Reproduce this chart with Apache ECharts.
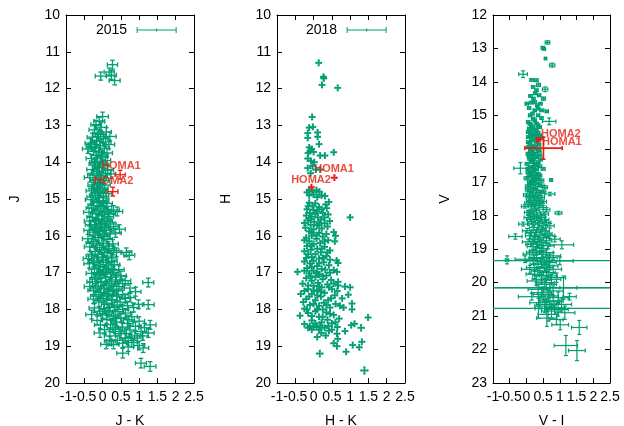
<!DOCTYPE html>
<html><head><meta charset="utf-8">
<script src="https://cdn.jsdelivr.net/npm/echarts@6/dist/echarts.min.js"></script>
<style>html,body{margin:0;padding:0;background:#fff}#c{width:624px;height:426px}</style>
</head><body><div id="c"></div>
<script>
// ---- data: [colour index, magnitude, colour error, magnitude error] ----
const xTicks1 = [-1, -0.5, 0, 0.5, 1, 1.5, 2, 2.5];
const panelTitles = ['2015', '2018'];
const xNames = ['J - K', 'H - K', 'V - I'];
const yNames = ['J', 'H', 'V'];
const starNames = ['HOMA1', 'HOMA2'];

const jk2015 = [
[0.27,11.35,0.14,0.12],[0.18,11.55,0.14,0.11],[-0.05,11.66,0.15,0.11],[0.24,11.63,0.14,0.12],[0.33,11.78,0.15,0.12],
[0.0,12.76,0.16,0.12],[-0.09,12.89,0.15,0.11],[-0.18,12.98,0.14,0.12],[-0.04,13.05,0.15,0.12],[-0.22,13.12,0.15,0.11],[0.1,13.18,0.14,0.12],[-0.12,13.22,0.15,0.12],[0.2,13.3,0.17,0.12],[-0.28,13.32,0.14,0.11],[0.02,13.36,0.15,0.12],[-0.16,13.42,0.14,0.12],[-0.33,13.48,0.15,0.12],[0.17,13.52,0.16,0.12],[-0.06,13.55,0.15,0.11],[-0.4,13.64,0.15,0.12],[-0.2,13.6,0.14,0.12],[0.05,13.62,0.14,0.12],[-0.25,13.7,0.15,0.11],[-0.1,13.72,0.14,0.12],[0.12,13.75,0.15,0.12],[-0.18,13.82,0.14,0.12],[-0.02,13.86,0.15,0.12],[-0.3,13.9,0.15,0.11],[0.08,13.95,0.14,0.12],[-0.14,13.98,0.15,0.12],
[-0.22,14.05,0.15,0.12],[0.03,14.08,0.14,0.11],[-0.08,14.15,0.15,0.12],[-0.28,14.2,0.15,0.12],[0.14,14.22,0.16,0.12],[-0.16,14.3,0.14,0.12],[-0.35,14.42,0.15,0.12],[-0.02,14.36,0.15,0.11],[0.22,14.32,0.14,0.12],[-0.2,14.48,0.14,0.12],[-0.1,14.55,0.15,0.12],[0.05,14.5,0.15,0.12],[-0.25,14.62,0.15,0.12],[-0.15,14.68,0.14,0.11],[0.0,14.7,0.15,0.12],[-0.3,14.78,0.15,0.12],[-0.06,14.82,0.14,0.12],[0.1,14.85,0.15,0.12],[-0.2,14.9,0.15,0.12],[-0.12,14.96,0.14,0.12],
[-0.32,15.02,0.15,0.12],[0.02,15.05,0.15,0.12],[-0.15,15.1,0.14,0.11],[-0.25,15.18,0.15,0.12],[0.1,15.2,0.15,0.12],[-0.05,15.25,0.15,0.12],[0.3,15.3,0.16,0.12],[0.4,15.34,0.15,0.12],[-0.37,15.36,0.15,0.12],[-0.18,15.4,0.14,0.12],[0.0,15.42,0.15,0.12],[-0.28,15.5,0.15,0.11],[0.15,15.48,0.15,0.12],[-0.1,15.55,0.15,0.12],[-0.22,15.62,0.14,0.12],[0.05,15.65,0.15,0.12],[0.22,15.68,0.15,0.12],[-0.32,15.7,0.15,0.12],[-0.05,15.74,0.14,0.12],[0.46,15.82,0.16,0.12],[-0.15,15.8,0.15,0.12],[0.1,15.85,0.15,0.12],[0.36,15.92,0.15,0.12],[-0.26,15.9,0.15,0.12],[0.0,15.95,0.15,0.12],
[-0.4,16.08,0.15,0.12],[-0.12,16.05,0.14,0.12],[0.12,16.1,0.15,0.12],[-0.25,16.15,0.15,0.12],[0.02,16.2,0.15,0.12],[0.28,16.22,0.15,0.12],[-0.35,16.3,0.15,0.12],[-0.08,16.32,0.15,0.12],[0.18,16.36,0.15,0.12],[-0.2,16.42,0.14,0.12],[0.06,16.45,0.15,0.12],[0.38,16.45,0.15,0.12],[0.65,16.45,0.15,0.12],[0.73,16.53,0.15,0.12],[-0.3,16.55,0.15,0.12],[-0.02,16.58,0.15,0.12],[0.24,16.6,0.15,0.12],[-0.15,16.68,0.15,0.12],[0.1,16.72,0.15,0.12],[-0.36,16.76,0.15,0.12],[0.32,16.78,0.15,0.12],[-0.06,16.82,0.15,0.12],[-0.22,16.9,0.15,0.12],[0.16,16.88,0.15,0.12],[0.44,16.92,0.15,0.12],[0.02,16.96,0.15,0.12],
[-0.3,17.02,0.15,0.12],[-0.1,17.05,0.15,0.12],[0.22,17.04,0.15,0.12],[0.5,17.08,0.15,0.12],[0.08,17.12,0.15,0.12],[-0.2,17.18,0.15,0.12],[0.35,17.2,0.15,0.12],[0.62,17.22,0.15,0.12],[1.25,17.27,0.15,0.12],[-0.02,17.26,0.15,0.12],[0.18,17.3,0.15,0.12],[-0.35,17.38,0.15,0.12],[-0.12,17.36,0.15,0.12],[0.45,17.38,0.15,0.12],[0.75,17.42,0.15,0.12],[0.05,17.44,0.15,0.12],[0.28,17.48,0.15,0.12],[-0.25,17.48,0.15,0.12],
[0.9,17.52,0.15,0.12],[-0.05,17.54,0.15,0.12],[0.15,17.58,0.15,0.12],[0.55,17.6,0.15,0.12],[0.38,17.64,0.15,0.12],[-0.18,17.64,0.15,0.12],[0.75,17.68,0.15,0.12],[0.02,17.7,0.15,0.12],[0.25,17.74,0.15,0.12],[-0.1,17.8,0.15,0.12],[0.48,17.8,0.15,0.12],[0.98,17.86,0.15,0.12],[1.25,17.87,0.16,0.12],[0.12,17.86,0.15,0.12],[0.68,17.9,0.15,0.12],[0.32,17.92,0.15,0.12],[-0.22,17.96,0.15,0.12],[0.05,17.98,0.15,0.12],[0.85,17.95,0.15,0.12],
[-0.3,18.14,0.16,0.12],[0.2,18.04,0.15,0.12],[0.42,18.06,0.15,0.12],[0.62,18.1,0.15,0.12],[0.0,18.12,0.15,0.12],[0.3,18.18,0.15,0.12],[0.8,18.2,0.15,0.12],[0.5,18.24,0.15,0.12],[0.12,18.28,0.15,0.12],[-0.15,18.3,0.15,0.12],[1.0,18.32,0.15,0.12],[0.38,18.34,0.15,0.12],[0.68,18.38,0.15,0.12],[-0.06,18.42,0.16,0.12],[0.22,18.42,0.15,0.12],[1.3,18.42,0.16,0.12],[0.9,18.46,0.15,0.12],[0.55,18.48,0.15,0.12],[1.15,18.5,0.16,0.12],
[0.35,18.54,0.15,0.12],[-0.07,18.64,0.16,0.12],[0.75,18.56,0.15,0.12],[1.25,18.64,0.16,0.12],[1.05,18.6,0.15,0.12],[0.5,18.66,0.15,0.12],[0.2,18.72,0.15,0.12],[0.88,18.72,0.15,0.12],[0.62,18.78,0.15,0.12],[0.2,18.86,0.15,0.12],[0.4,18.84,0.15,0.12],[0.8,18.9,0.15,0.12],[0.55,18.92,0.15,0.12],[1.0,18.98,0.15,0.12],
[1.11,19.05,0.15,0.12],[0.7,19.02,0.15,0.12],[0.55,19.19,0.16,0.13],[1.05,19.46,0.15,0.13],[1.3,19.55,0.16,0.13],
[-0.05,13.25,0.15,0.12],[0.08,13.45,0.15,0.12],[-0.22,13.52,0.15,0.12],[-0.12,13.3,0.15,0.12],[-0.3,13.58,0.15,0.12],[0.0,13.8,0.15,0.12],[-0.2,14.0,0.15,0.12],[-0.05,14.02,0.15,0.12],[-0.12,14.25,0.15,0.12],[0.08,14.3,0.15,0.12],[-0.26,14.35,0.15,0.12],[-0.04,14.45,0.15,0.12],[-0.14,14.6,0.15,0.12],[0.06,14.62,0.15,0.12],[-0.22,14.72,0.15,0.12],[-0.1,14.76,0.15,0.12],[0.02,14.92,0.15,0.12],[-0.28,14.95,0.15,0.12],
[-0.08,15.08,0.15,0.12],[0.12,15.12,0.15,0.12],[-0.3,15.25,0.15,0.12],[-0.12,15.32,0.15,0.12],[0.06,15.35,0.15,0.12],[0.2,15.4,0.15,0.12],[-0.35,15.6,0.15,0.12],[-0.02,15.58,0.15,0.12],[0.12,15.6,0.15,0.12],[-0.18,15.7,0.15,0.12],[0.3,15.75,0.15,0.12],[0.05,15.78,0.15,0.12],[-0.36,15.85,0.15,0.12],[-0.08,15.88,0.15,0.12],[0.2,15.95,0.15,0.12],[-0.2,15.98,0.15,0.12],
[0.05,16.02,0.15,0.12],[-0.3,16.2,0.15,0.12],[-0.15,16.25,0.15,0.12],[0.15,16.28,0.15,0.12],[-0.02,16.38,0.15,0.12],[0.3,16.4,0.15,0.12],[-0.12,16.5,0.15,0.12],[0.12,16.55,0.15,0.12],[-0.38,16.62,0.15,0.12],[0.02,16.66,0.15,0.12],[-0.25,16.72,0.15,0.12],[0.25,16.7,0.15,0.12],[-0.1,16.85,0.15,0.12],[0.08,16.92,0.15,0.12],[0.3,16.95,0.15,0.12],
[-0.15,17.0,0.15,0.12],[0.12,17.0,0.15,0.12],[0.38,17.12,0.15,0.12],[-0.06,17.15,0.15,0.12],[-0.28,17.25,0.15,0.12],[0.25,17.25,0.15,0.12],[0.1,17.35,0.15,0.12],[0.55,17.3,0.15,0.12],[-0.18,17.42,0.15,0.12],[0.38,17.45,0.15,0.12],[0.18,17.52,0.15,0.12],[-0.1,17.6,0.15,0.12],[0.28,17.62,0.15,0.12],[0.62,17.7,0.15,0.12],[0.1,17.75,0.15,0.12],[-0.25,17.72,0.15,0.12],[0.4,17.88,0.15,0.12],[0.18,17.95,0.15,0.12],
[-0.08,18.05,0.15,0.12],[0.55,18.0,0.15,0.12],[0.1,18.15,0.15,0.12],[0.35,18.25,0.15,0.12],[0.72,18.28,0.15,0.12],[0.28,18.5,0.15,0.12],[0.05,18.55,0.15,0.12],[0.45,18.6,0.15,0.12],[0.65,18.65,0.15,0.12],[0.3,18.95,0.15,0.12],[0.1,18.95,0.15,0.12],[0.7,18.85,0.15,0.12],[0.95,18.78,0.15,0.12],[1.1,18.72,0.15,0.12]
];

const hk2018 = [
[0.14,11.3,0.07,0.07],[0.27,11.68,0.07,0.07],[0.28,11.72,0.07,0.07],[0.23,11.9,0.07,0.07],[0.66,11.98,0.07,0.07],[-0.04,12.77,0.07,0.07],[-0.12,13.06,0.07,0.07],[-0.02,13.04,0.07,0.07],[-0.16,13.21,0.07,0.07],[-0.16,13.34,0.07,0.07],[0.11,13.19,0.07,0.07],[0.11,13.31,0.07,0.07],[0.15,13.51,0.07,0.07],[-0.12,13.6,0.07,0.07],[-0.05,13.64,0.07,0.07],[-0.1,13.7,0.07,0.07],[0.0,13.72,0.07,0.07],[-0.15,13.75,0.07,0.07],[0.18,13.82,0.07,0.07],[0.31,13.82,0.07,0.07],[0.55,13.73,0.07,0.07],[-0.16,13.9,0.07,0.07],[-0.07,13.97,0.07,0.07],[0.02,14.0,0.07,0.07],[-0.16,14.16,0.07,0.07],[-0.03,14.1,0.07,0.07],[0.06,14.2,0.07,0.07],[0.18,14.2,0.07,0.07],[-0.08,14.3,0.07,0.07],[-0.12,14.75,0.07,0.07],[-0.03,14.8,0.07,0.07],[0.08,14.76,0.07,0.07],[0.16,14.8,0.07,0.07],[0.0,14.88,0.07,0.07],[0.22,14.9,0.07,0.07],[0.31,14.92,0.07,0.07],
[-0.12,15.1,0.07,0.07],[-0.03,15.18,0.07,0.07],[0.05,15.12,0.07,0.07],[0.15,15.22,0.07,0.07],[0.33,15.15,0.07,0.07],[0.42,15.08,0.07,0.07],[0.36,15.25,0.07,0.07],[-0.18,15.28,0.07,0.07],[0.0,15.3,0.07,0.07],[0.1,15.34,0.07,0.07],[-0.1,15.38,0.07,0.07],[0.25,15.38,0.07,0.07],[0.4,15.42,0.07,0.07],[1.0,15.5,0.07,0.07],[-0.2,15.45,0.07,0.07],[-0.05,15.48,0.07,0.07],[0.12,15.5,0.07,0.07],[0.2,15.56,0.07,0.07],[0.44,15.6,0.07,0.07],[-0.15,15.58,0.07,0.07],[0.02,15.62,0.07,0.07],[0.3,15.66,0.07,0.07],[-0.08,15.7,0.07,0.07],[0.1,15.72,0.07,0.07],[-0.22,15.78,0.07,0.07],[0.22,15.8,0.07,0.07],[0.0,15.82,0.07,0.07],[0.55,15.9,0.07,0.07],[-0.12,15.88,0.07,0.07],[0.15,15.92,0.07,0.07],[0.35,15.95,0.07,0.07],
[-0.05,16.0,0.07,0.07],[0.6,16.0,0.07,0.07],[0.25,16.02,0.07,0.07],[-0.2,16.05,0.07,0.07],[0.08,16.08,0.07,0.07],[0.58,16.15,0.07,0.07],[0.4,16.12,0.07,0.07],[-0.12,16.15,0.07,0.07],[0.18,16.2,0.07,0.07],[0.0,16.22,0.07,0.07],[-0.18,16.28,0.07,0.07],[0.3,16.3,0.07,0.07],[0.1,16.35,0.07,0.07],[-0.08,16.38,0.07,0.07],[0.45,16.4,0.07,0.07],[0.2,16.45,0.07,0.07],[-0.15,16.5,0.07,0.07],[0.05,16.5,0.07,0.07],[0.35,16.55,0.07,0.07],[-0.2,16.6,0.07,0.07],[0.63,16.67,0.07,0.07],[0.67,16.74,0.07,0.07],[0.15,16.62,0.07,0.07],[0.0,16.68,0.07,0.07],[0.28,16.72,0.07,0.07],[-0.1,16.75,0.07,0.07],[0.42,16.8,0.07,0.07],[0.1,16.82,0.07,0.07],[-0.18,16.88,0.07,0.07],[0.55,16.93,0.07,0.07],[0.64,16.98,0.07,0.07],[0.22,16.9,0.07,0.07],[-0.44,16.98,0.07,0.07],[0.0,16.95,0.07,0.07],
[-0.12,17.02,0.07,0.07],[0.15,17.05,0.07,0.07],[0.35,17.08,0.07,0.07],[0.05,17.12,0.07,0.07],[-0.2,17.15,0.07,0.07],[0.25,17.18,0.07,0.07],[0.48,17.2,0.07,0.07],[-0.05,17.22,0.07,0.07],[0.67,17.25,0.07,0.07],[0.12,17.28,0.07,0.07],[-0.3,17.3,0.07,0.07],[0.38,17.32,0.07,0.07],[0.67,17.35,0.07,0.07],[0.86,17.38,0.07,0.07],[1.0,17.4,0.07,0.07],[0.0,17.36,0.07,0.07],[0.22,17.4,0.07,0.07],[-0.15,17.45,0.07,0.07],[0.5,17.45,0.07,0.07],[0.1,17.5,0.07,0.07],[0.3,17.55,0.07,0.07],[-0.35,17.58,0.07,0.07],[-0.05,17.58,0.07,0.07],[0.95,17.6,0.07,0.07],[0.58,17.62,0.07,0.07],[0.2,17.65,0.07,0.07],[0.78,17.7,0.07,0.07],[-0.2,17.72,0.07,0.07],[0.05,17.75,0.07,0.07],[0.4,17.75,0.07,0.07],[0.28,17.82,0.07,0.07],[1.05,17.84,0.07,0.07],[0.6,17.85,0.07,0.07],[-0.1,17.88,0.07,0.07],[0.15,17.9,0.07,0.07],[0.82,17.95,0.07,0.07],[0.45,17.95,0.07,0.07],[-0.25,17.98,0.07,0.07],[1.05,18.0,0.07,0.07],[0.25,18.0,0.07,0.07],
[0.05,18.05,0.07,0.07],[0.35,18.08,0.07,0.07],[-0.15,18.1,0.07,0.07],[-0.37,18.17,0.07,0.07],[1.49,18.22,0.07,0.07],[0.55,18.15,0.07,0.07],[0.15,18.2,0.07,0.07],[0.7,18.25,0.07,0.07],[0.38,18.28,0.07,0.07],[-0.05,18.3,0.07,0.07],[0.22,18.35,0.07,0.07],[1.12,18.39,0.07,0.07],[1.03,18.43,0.07,0.07],[0.5,18.38,0.07,0.07],[-0.1,18.45,0.07,0.07],[0.08,18.48,0.07,0.07],[0.3,18.5,0.07,0.07],[1.3,18.5,0.08,0.08],[0.65,18.48,0.07,0.07],[-0.05,18.55,0.07,0.07],[0.15,18.55,0.07,0.07],[0.86,18.59,0.07,0.07],[0.42,18.58,0.07,0.07],[0.21,18.64,0.07,0.07],[0.64,18.66,0.07,0.07],[0.33,18.71,0.07,0.07],[0.1,18.75,0.07,0.07],[0.66,18.8,0.07,0.07],[1.32,18.88,0.07,0.07],[0.64,19.0,0.07,0.07],[0.55,18.92,0.07,0.07],[1.07,18.97,0.07,0.07],[1.25,19.03,0.07,0.07],[0.89,19.15,0.07,0.07],[0.17,19.2,0.08,0.08],[1.39,19.66,0.09,0.09],
[-0.15,15.2,0.07,0.07],[0.05,15.4,0.07,0.07],[0.22,15.28,0.07,0.07],[-0.08,15.55,0.07,0.07],[0.3,15.5,0.07,0.07],[-0.25,15.65,0.07,0.07],[0.15,15.68,0.07,0.07],[0.38,15.75,0.07,0.07],[-0.05,15.92,0.07,0.07],[0.08,15.98,0.07,0.07],[-0.25,16.12,0.07,0.07],[0.3,16.15,0.07,0.07],[-0.05,16.28,0.07,0.07],[0.22,16.35,0.07,0.07],[-0.25,16.42,0.07,0.07],[0.38,16.45,0.07,0.07],[-0.05,16.58,0.07,0.07],[0.25,16.6,0.07,0.07],[-0.25,16.7,0.07,0.07],[0.45,16.65,0.07,0.07],[0.15,16.75,0.07,0.07],[-0.05,16.85,0.07,0.07],[0.32,16.92,0.07,0.07],[-0.25,16.95,0.07,0.07],[0.1,17.0,0.07,0.07],[0.45,17.0,0.07,0.07],[-0.08,17.1,0.07,0.07],[0.25,17.1,0.07,0.07],[0.55,17.3,0.07,0.07],[-0.15,17.35,0.07,0.07],[0.15,17.38,0.07,0.07],[0.42,17.4,0.07,0.07],[-0.25,17.5,0.07,0.07],[0.0,17.48,0.07,0.07],[0.2,17.52,0.07,0.07],[0.65,17.5,0.07,0.07],[-0.12,17.65,0.07,0.07],[0.1,17.62,0.07,0.07],[0.48,17.7,0.07,0.07],[-0.28,17.8,0.07,0.07],[0.0,17.85,0.07,0.07],[0.35,17.88,0.07,0.07],[0.72,17.9,0.07,0.07],[-0.18,18.0,0.07,0.07],[0.1,18.0,0.07,0.07],[0.45,18.12,0.07,0.07],[-0.05,18.18,0.07,0.07],[0.25,18.2,0.07,0.07],[0.6,18.35,0.07,0.07],[-0.25,18.4,0.07,0.07],[0.05,18.38,0.07,0.07],[0.4,18.45,0.07,0.07],[-0.15,18.5,0.07,0.07],[0.18,18.45,0.07,0.07],[0.5,18.55,0.07,0.07],[0.0,18.48,0.07,0.07],[-0.12,14.9,0.07,0.07],[0.1,14.95,0.07,0.07],[-0.18,14.82,0.07,0.07]
];

const vi = [
[0.63,12.82,0.07,0.05],[0.49,12.98,0.05,0.04],[0.53,13.02,0.04,0.03],[0.57,13.3,0.03,0.03],[0.77,13.5,0.08,0.06],[-0.1,13.77,0.13,0.1],[0.16,13.94,0.06,0.04],[0.3,13.95,0.05,0.04],[0.36,14.09,0.06,0.05],[0.56,14.22,0.08,0.07],[0.26,14.34,0.05,0.04],[0.21,14.5,0.05,0.04],[0.51,14.5,0.06,0.05],[0.01,14.65,0.05,0.04],[0.15,14.62,0.05,0.04],[0.32,14.7,0.05,0.04],[0.46,14.85,0.06,0.04],[0.61,14.88,0.05,0.04],[0.25,14.85,0.05,0.04],[0.11,15.0,0.05,0.04],[0.35,15.0,0.05,0.04],[0.68,15.18,0.2,0.1],[0.2,15.1,0.05,0.04],[0.05,15.2,0.05,0.04],[0.3,15.25,0.05,0.04],
[0.2,14.15,0.05,0.04],[0.3,14.25,0.05,0.04],[0.12,14.42,0.05,0.04],[0.38,14.4,0.05,0.04],[0.25,14.6,0.05,0.04],[0.42,14.65,0.05,0.04],[0.08,14.78,0.05,0.04],[0.35,14.8,0.05,0.04],[0.18,14.95,0.05,0.04],[0.45,15.08,0.05,0.04],
[0.15,15.3,0.05,0.04],[0.4,15.35,0.05,0.04],[0.08,15.4,0.05,0.04],[0.25,15.45,0.05,0.04],[0.12,15.5,0.05,0.04],[0.35,15.52,0.05,0.04],[0.2,15.6,0.05,0.04],[0.05,15.65,0.05,0.04],[0.28,15.7,0.05,0.04],[0.45,15.68,0.05,0.04],[0.15,15.75,0.05,0.04],[0.1,15.85,0.05,0.04],[0.3,15.82,0.05,0.04],[0.2,15.9,0.05,0.04],[0.05,15.95,0.05,0.04],
[0.25,15.15,0.05,0.04],[0.1,15.25,0.05,0.04],[0.35,15.3,0.05,0.04],[0.2,15.38,0.05,0.04],[0.3,15.42,0.05,0.04],[0.05,15.5,0.05,0.04],[0.22,15.55,0.05,0.04],[0.4,15.6,0.05,0.04],[0.12,15.62,0.05,0.04],[0.3,15.6,0.05,0.04],[0.2,15.72,0.05,0.04],[0.05,15.8,0.05,0.04],[0.38,15.88,0.05,0.04],[0.25,15.95,0.05,0.04],[0.12,15.98,0.05,0.04],
[0.25,16.0,0.06,0.04],[0.12,16.05,0.06,0.04],[0.38,16.08,0.06,0.04],[0.05,16.15,0.06,0.04],[0.2,16.2,0.06,0.04],[0.3,16.25,0.06,0.04],[0.1,16.3,0.06,0.04],[0.42,16.32,0.06,0.04],[-0.18,16.58,0.2,0.17],[0.18,16.4,0.06,0.04],[0.02,16.45,0.06,0.04],[0.3,16.5,0.06,0.04],[0.12,16.55,0.06,0.04],[0.5,16.6,0.06,0.04],[0.22,16.65,0.06,0.04],[0.05,16.7,0.06,0.04],[0.35,16.75,0.06,0.04],[0.15,16.8,0.06,0.04],[0.74,16.93,0.04,0.04],[0.0,16.88,0.07,0.05],[0.28,16.9,0.07,0.05],[0.45,16.95,0.07,0.05],[0.1,16.98,0.07,0.05],
[0.35,16.02,0.06,0.04],[0.18,16.12,0.06,0.04],[0.28,16.15,0.06,0.04],[0.4,16.2,0.06,0.04],[0.08,16.22,0.06,0.04],[0.22,16.3,0.06,0.04],[0.15,16.35,0.06,0.04],[0.35,16.4,0.06,0.04],[0.25,16.45,0.06,0.04],[0.4,16.52,0.06,0.04],[0.2,16.55,0.06,0.04],[0.05,16.6,0.06,0.04],[0.3,16.62,0.06,0.04],[0.12,16.7,0.06,0.04],[0.28,16.75,0.06,0.04],[0.4,16.8,0.06,0.04],[0.08,16.82,0.06,0.04],[0.22,16.85,0.06,0.04],[0.35,16.88,0.06,0.04],[0.18,16.95,0.06,0.04],
[0.2,17.02,0.08,0.05],[0.35,17.08,0.08,0.05],[0.05,17.12,0.08,0.05],[0.55,17.15,0.08,0.05],[0.25,17.2,0.08,0.05],[0.12,17.28,0.08,0.05],[0.4,17.3,0.09,0.05],[0.7,17.35,0.15,0.05],[0.0,17.38,0.09,0.05],[0.22,17.42,0.09,0.05],[0.32,17.5,0.09,0.05],[0.1,17.55,0.1,0.05],[0.5,17.58,0.1,0.05],[0.18,17.65,0.1,0.05],[0.38,17.7,0.1,0.05],[-0.05,17.72,0.1,0.05],[0.25,17.8,0.1,0.06],[0.6,17.82,0.1,0.06],[0.12,17.88,0.1,0.06],[0.96,17.92,0.1,0.05],[0.42,17.95,0.11,0.06],[0.2,17.98,0.11,0.06],
[0.3,17.0,0.08,0.05],[0.12,17.05,0.08,0.05],[0.45,17.1,0.08,0.05],[0.2,17.15,0.08,0.05],[0.3,17.25,0.08,0.05],[0.05,17.22,0.08,0.05],[0.5,17.28,0.08,0.05],[0.18,17.35,0.09,0.05],[0.35,17.4,0.09,0.05],[0.08,17.45,0.09,0.05],[0.45,17.45,0.09,0.05],[0.25,17.55,0.1,0.05],[0.4,17.6,0.1,0.05],[0.05,17.62,0.1,0.05],[0.3,17.65,0.1,0.05],[0.15,17.72,0.1,0.05],[0.5,17.75,0.1,0.06],[0.3,17.85,0.1,0.06],[0.05,17.9,0.11,0.06],[0.55,17.95,0.11,0.06],
[0.05,18.05,0.12,0.06],[0.3,18.08,0.12,0.06],[0.55,18.12,0.12,0.06],[0.15,18.18,0.12,0.06],[0.4,18.22,0.13,0.06],[-0.1,18.25,0.13,0.06],[0.7,18.3,0.13,0.07],[0.22,18.35,0.13,0.07],[0.45,18.4,0.14,0.07],[0.02,18.45,0.14,0.07],[-0.33,18.62,0.2,0.08],[0.3,18.5,0.15,0.07],[0.62,18.55,0.15,0.07],[0.12,18.6,0.15,0.08],[0.5,18.65,0.16,0.08],[0.85,18.7,0.16,0.08],[0.25,18.72,0.16,0.08],[0.05,18.78,0.17,0.08],[0.4,18.8,0.17,0.08],[1.06,18.87,0.35,0.12],[0.65,18.9,0.18,0.09],[0.2,18.92,0.18,0.09],[0.45,18.98,0.18,0.09],
[0.25,18.02,0.12,0.06],[0.45,18.05,0.12,0.06],[0.12,18.1,0.12,0.06],[0.35,18.15,0.12,0.06],[0.6,18.2,0.13,0.06],[0.2,18.25,0.13,0.06],[0.5,18.3,0.13,0.07],[0.35,18.42,0.14,0.07],[0.12,18.5,0.15,0.07],[0.55,18.45,0.14,0.07],[0.4,18.58,0.15,0.07],[0.25,18.62,0.15,0.08],[0.7,18.6,0.15,0.08],[0.35,18.7,0.16,0.08],[0.6,18.75,0.16,0.08],[0.15,18.85,0.17,0.08],[0.5,18.88,0.18,0.09],[0.3,18.85,0.17,0.08],
[-0.58,19.32,0.05,0.12],[-0.04,19.3,0.3,0.1],[0.3,19.05,0.2,0.1],[0.6,19.1,0.2,0.1],[0.1,19.15,0.2,0.1],[0.8,19.2,0.22,0.1],[0.45,19.25,0.22,0.1],[0.2,19.35,0.22,0.1],[0.65,19.4,0.24,0.12],[1.0,19.35,0.4,0.12],[0.35,19.45,0.24,0.12],[0.55,19.55,0.25,0.12],[0.1,19.6,0.25,0.12],[0.8,19.6,0.25,0.12],[0.4,19.65,0.26,0.13],[0.25,19.75,0.26,0.13],[0.65,19.8,0.27,0.13],[0.9,19.85,0.27,0.14],[0.45,19.9,0.28,0.14],[0.3,19.95,0.28,0.14],
[0.4,19.05,0.2,0.1],[0.2,19.1,0.2,0.1],[0.5,19.15,0.2,0.1],[0.7,19.25,0.22,0.1],[0.3,19.28,0.22,0.1],[0.55,19.35,0.22,0.11],[0.45,19.45,0.24,0.12],[0.7,19.5,0.24,0.12],[0.25,19.55,0.25,0.12],[0.6,19.7,0.26,0.13],[0.45,19.78,0.26,0.13],[0.75,19.9,0.28,0.14],[0.55,20.0,0.28,0.14],[0.7,20.15,0.3,0.15],[0.45,20.3,0.3,0.16],[0.65,20.4,0.3,0.17],[0.8,20.55,0.3,0.18],[0.6,20.65,0.3,0.19],[0.95,20.8,0.3,0.2],[0.75,20.85,0.3,0.2],
[0.0,19.34,4.0,0.02],[0.5,20.15,4.0,0.02],[0.55,20.16,4.0,0.02],[0.7,20.77,4.0,0.02],
[1.11,20.15,0.4,0.35],[0.6,20.05,0.3,0.15],[0.35,20.2,0.3,0.15],[0.8,20.25,0.3,0.15],[0.16,20.42,0.4,0.1],[1.29,20.42,0.2,0.1],[0.5,20.35,0.3,0.16],[0.95,20.45,0.3,0.17],[0.7,20.55,0.3,0.18],[0.4,20.6,0.3,0.18],[1.05,20.65,0.3,0.2],[0.85,20.75,0.3,0.2],[0.36,20.77,0.1,0.3],[0.55,20.7,0.3,0.2],[1.15,20.9,0.3,0.2],[0.65,20.95,0.3,0.2],
[0.61,21.06,0.3,0.25],[1.01,21.26,0.25,0.15],[1.58,21.34,0.23,0.21],[1.18,21.88,0.35,0.3],[1.51,22.03,0.25,0.3],[0.9,21.1,0.2,0.15]
];

// HOMA stars: [colour, mag, colour err, mag err], order HOMA1, HOMA2
const homa2015 = [[0.48,14.34,0.14,0.12],[0.28,14.8,0.14,0.12]];
const homa2018 = [[0.57,14.42,0.07,0.07],[-0.06,14.68,0.07,0.07]];
const homaVI   = [[0.51,15.98,0.56,0.33],[0.36,15.73,0.06,0.06]];
// label anchor positions in data units
const homaLab2015 = [[0.5,14.1],[0.3,14.52]];
const homaLab2018 = [[0.56,14.18],[-0.07,14.47]];
const homaLabVI   = [[1.06,15.81],[1.03,15.55]];

const yRanges = [[10,20],[10,20],[12,23]];

// ---- chart ----
const GREEN = '#009e73', RED = '#e51e10';
const FONT = 'Liberation Sans, Arial, Helvetica, sans-serif';
const grids = [
  {left:66, top:15, width:128, height:368, containLabel:false, outerBoundsMode:'none'},
  {left:277, top:15, width:128, height:368, containLabel:false, outerBoundsMode:'none'},
  {left:493, top:15, width:117, height:368, containLabel:false, outerBoundsMode:'none'}
];
const capLen = [2.3, 1.0, 2.0];
const lineW = [1.3, 1.7, 1.2];

function errRenderer(color, lw, k){
  return function(params, api){
    const x=api.value(0), y=api.value(1), ex=api.value(2), ey=api.value(3);
    const c=api.coord([x,y]), l=api.coord([x-ex,y]), r=api.coord([x+ex,y]);
    const t=api.coord([x,y-ey]), b=api.coord([x,y+ey]);
    const st={stroke:color, lineWidth:lw};
    const ln=(x1,y1,x2,y2)=>({type:'line', shape:{x1,y1,x2,y2}, style:st});
    return {type:'group', children:[
      ln(l[0],c[1],r[0],c[1]), ln(l[0],c[1]-k,l[0],c[1]+k), ln(r[0],c[1]-k,r[0],c[1]+k),
      ln(c[0],t[1],c[0],b[1]), ln(c[0]-k,t[1],c[0]+k,t[1]), ln(c[0]-k,b[1],c[0]+k,b[1])
    ]};
  };
}
// labels split over two bottom axes (whole numbers / halves) so none is dropped as overlapping
const isWhole = v => Math.abs(v - Math.round(v)) < 1e-9;

const xAxes=[], yAxes=[], series=[];
const datasets=[jk2015, hk2018, vi];
const homas=[homa2015, homa2018, homaVI];
const labs=[homaLab2015, homaLab2018, homaLabVI];
const yNameGap=[44,44,41];
const lblStyle={fontSize:14, fontFamily:FONT, color:'#000', margin:7, hideOverlap:false, showMinLabel:true, showMaxLabel:true};
for(let i=0;i<3;i++){
  const axCommon = () => ({axisLine:{show:true, onZero:false, lineStyle:{color:'#000', width:1}}, axisTick:{show:true, inside:true, length:5, lineStyle:{color:'#000'}}, splitLine:{show:false}});
  const xr = {min:xTicks1[0], max:xTicks1[xTicks1.length-1], interval:0.5};
  xAxes.push(Object.assign({type:'value', gridIndex:i, position:'bottom'}, xr, {
    name:xNames[i], nameLocation:'middle', nameGap:31, nameTextStyle:{fontSize:14, fontFamily:FONT, color:'#000'},
    axisLabel:Object.assign({}, lblStyle, {formatter: v => isWhole(v) ? String(v) : ''})}, axCommon()));
  xAxes.push(Object.assign({type:'value', gridIndex:i, position:'top'}, xr, {axisLabel:{show:false}}, axCommon()));
  xAxes.push(Object.assign({type:'value', gridIndex:i, position:'bottom'}, xr, {
    axisLine:{show:false, onZero:false}, axisTick:{show:false}, splitLine:{show:false},
    axisLabel:Object.assign({}, lblStyle, {formatter: v => isWhole(v) ? '' : String(v)})}));
  yAxes.push(Object.assign({type:'value', gridIndex:i, position:'left', inverse:true, min:yRanges[i][0], max:yRanges[i][1], interval:1,
    name:yNames[i], nameLocation:'middle', nameGap:yNameGap[i], nameTextStyle:{fontSize:14, fontFamily:FONT, color:'#000'},
    axisLabel:{fontSize:14, fontFamily:FONT, color:'#000', margin:6, showMinLabel:true, showMaxLabel:true}}, axCommon()));
  yAxes.push(Object.assign({type:'value', gridIndex:i, position:'right', inverse:true, min:yRanges[i][0], max:yRanges[i][1], interval:1, axisLabel:{show:false}}, axCommon()));
  series.push({type:'custom', name: i<2 ? panelTitles[i] : 'V-I', xAxisIndex:3*i, yAxisIndex:2*i, clip:true,
    itemStyle:{color:GREEN}, renderItem:errRenderer(GREEN,lineW[i],capLen[i]), encode:{x:0,y:1}, data:datasets[i], z:2});
  series.push({type:'custom', name:'homa'+i, xAxisIndex:3*i, yAxisIndex:2*i, clip:true,
    itemStyle:{color:RED}, renderItem:errRenderer(RED, i===2?1.6:lineW[i], capLen[i]), encode:{x:0,y:1}, data:homas[i], z:3});
  series.push({type:'scatter', name:'lab'+i, xAxisIndex:3*i, yAxisIndex:2*i, symbolSize:0, z:4,
    data: labs[i].map((p,j)=>({value:p, name:starNames[j]})),
    label:{show:true, position:'inside', formatter:'{b}', color:RED, fontSize:11, fontWeight:'bold', fontFamily:FONT}});
}

const legendIcon='path://M0,0h1v6h-1zM0,2.5h40v1h-40zM39,0h1v6h-1zM19.5,1.5h1v3h-1z';
const legends=[0,1].map(i=>({data:[panelTitles[i]], left: i===0?91:301, top:18, align:'right', icon:legendIcon,
  itemWidth:41, itemHeight:6, selectedMode:false, textStyle:{fontSize:14, fontFamily:FONT, color:'#000', padding:[0,4,0,0]}}));

const chart=echarts.init(document.getElementById('c'), null, {renderer:'canvas'});
chart.setOption({animation:false, backgroundColor:'#fff', grid:grids, xAxis:xAxes, yAxis:yAxes, legend:legends, series});
</script></body></html>
